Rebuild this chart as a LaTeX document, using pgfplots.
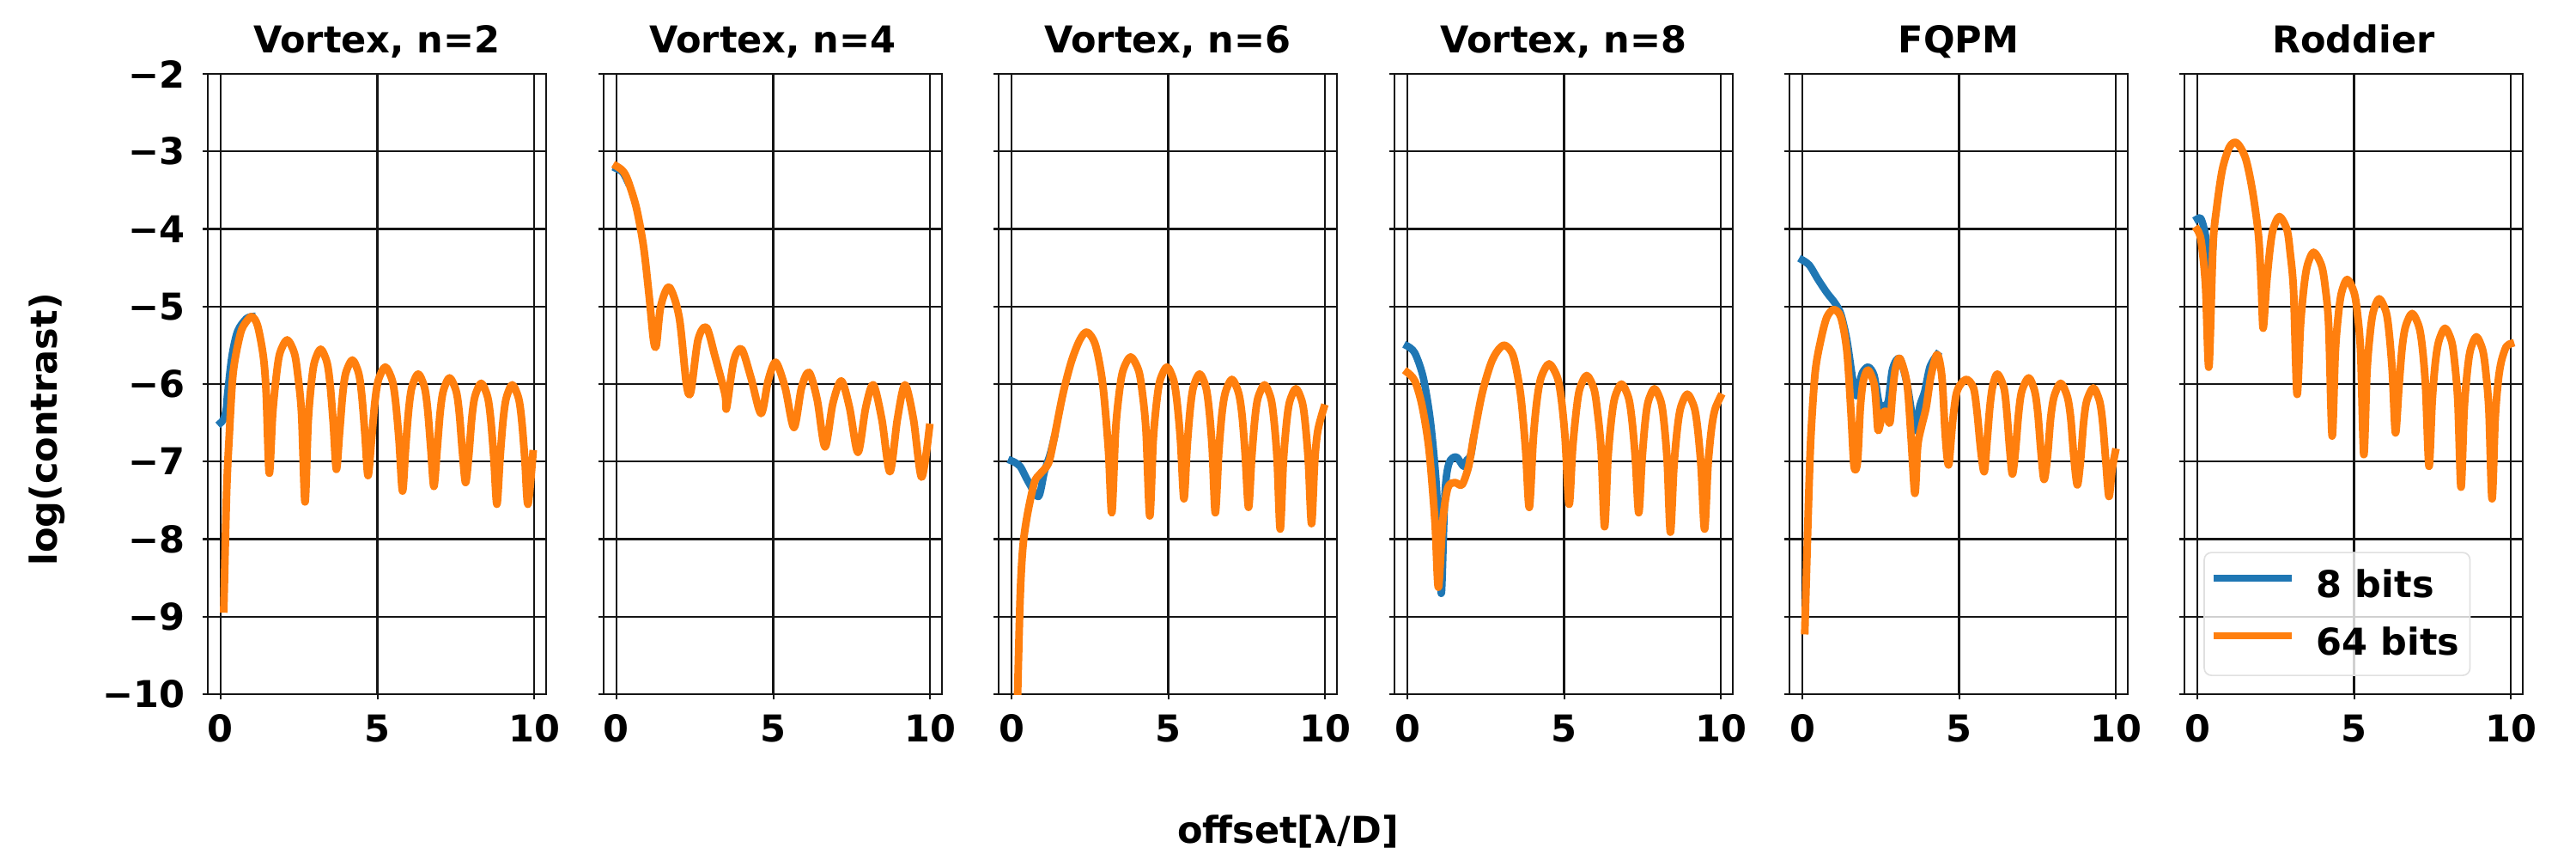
\documentclass[border=0pt]{standalone}
\usepackage{fontspec}
\setmainfont{DejaVu Sans}
\usepackage{pgfplots}
\pgfplotsset{compat=1.18}
\definecolor{c8}{HTML}{1F77B4}
\definecolor{c64}{HTML}{FF7F0E}
\definecolor{gridc}{HTML}{151515}
\newcommand\myfont{\fontsize{15.5}{18}\selectfont\bfseries}
\pgfplotsset{
  panel/.style={
    scale only axis, width=141.84pt, height=259.92pt, anchor=south west,
    xmin=-0.41, xmax=10.38, ymin=-10, ymax=-2,
    xtick={0,5,10}, xticklabels={0,5,10},
    ytick={-10,-9,-8,-7,-6,-5,-4,-3,-2},
    grid=major,
    x grid style={gridc, line width=0.8pt},
    y grid style={gridc, line width=0.75pt},
    axis line style={gridc, line width=0.75pt},
    tick style={gridc, line width=0.75pt},
    tick align=outside, major tick length=2.1pt,
    xtick pos=bottom, ytick pos=left,
    xticklabel style={font=\myfont, anchor=base, yshift=-18pt},
    yticklabel style={font=\myfont, anchor=east, inner sep=0pt, xshift=-7.2pt},
    title style={font=\myfont, anchor=base, at={(0.5,1)}, yshift=2.9pt},
    yticklabels={},
  },
  b8/.style={c8, line width=3.1pt, line join=round, line cap=rect, smooth, tension=0.5, mark=none},
  b64/.style={c64, line width=3.2pt, line join=round, line cap=rect, smooth, tension=0.5, mark=none},
}
\begin{document}
\begin{tikzpicture}
\path[use as bounding box] (0,0) rectangle (1080pt,360pt);
% ---------------- Vortex n=2
\begin{axis}[panel, at={(87.12pt,69.12pt)}, title={Vortex, n=2},
  yticklabels={−10,−9,−8,−7,−6,−5,−4,−3,−2}]
\addplot[b8] coordinates {(0,-6.50)(0.10,-6.45)(0.18,-6.32)(0.22,-6.13)(0.36,-5.64)(0.54,-5.32)(0.81,-5.16)(1.00,-5.13)};
\addplot[b64] coordinates {
(0.10,-8.90)(0.19,-7.40)(0.27,-6.70)(0.40,-5.85)(0.63,-5.35)(0.81,-5.20)(1.00,-5.13)(1.18,-5.25)(1.36,-5.64)(1.45,-6.10)(1.55,-7.15)
(1.66,-6.38)(1.78,-5.88)(1.89,-5.60)(2.12,-5.43)(2.35,-5.60)(2.46,-5.88)(2.58,-6.38)(2.69,-7.52)
(2.79,-6.50)(2.89,-6.00)(2.99,-5.72)(3.19,-5.55)(3.39,-5.72)(3.49,-6.00)(3.59,-6.50)(3.69,-7.10)
(3.79,-6.64)(3.89,-6.14)(3.99,-5.86)(4.20,-5.69)(4.40,-5.86)(4.50,-6.14)(4.60,-6.64)(4.70,-7.18)
(4.81,-6.73)(4.92,-6.23)(5.03,-5.95)(5.25,-5.78)(5.47,-5.95)(5.58,-6.23)(5.69,-6.73)(5.80,-7.38)
(5.90,-6.82)(6.00,-6.32)(6.10,-6.04)(6.30,-5.87)(6.50,-6.04)(6.60,-6.32)(6.70,-6.82)(6.80,-7.32)
(6.90,-6.87)(7.00,-6.37)(7.10,-6.09)(7.30,-5.92)(7.51,-6.09)(7.61,-6.37)(7.71,-6.87)(7.81,-7.27)
(7.91,-6.94)(8.01,-6.44)(8.11,-6.16)(8.31,-5.99)(8.51,-6.16)(8.61,-6.44)(8.71,-6.94)(8.81,-7.55)
(8.91,-6.96)(9.01,-6.46)(9.11,-6.18)(9.30,-6.01)(9.50,-6.18)(9.60,-6.46)(9.70,-6.96)(9.80,-7.55)
(9.96,-6.90)};
\end{axis}
% ---------------- Vortex n=4
\begin{axis}[panel, at={(253.08pt,69.12pt)}, title={Vortex, n=4}]
\addplot[b8] coordinates {(0,-3.22)(0.20,-3.27)(0.36,-3.39)};
\addplot[b64] coordinates {
(0.00,-3.19)(0.20,-3.25)(0.36,-3.37)(0.63,-3.72)(0.86,-4.22)(1.04,-4.86)(1.18,-5.43)(1.27,-5.50)(1.41,-5.00)
(1.68,-4.75)(2.00,-5.14)(2.23,-6.00)(2.37,-6.10)(2.60,-5.43)(2.87,-5.27)(3.14,-5.64)(3.46,-6.13)(3.51,-6.31)
(3.74,-5.70)(3.99,-5.55)(4.29,-5.92)(4.61,-6.38)(4.84,-5.95)(5.08,-5.72)(5.38,-6.05)(5.66,-6.56)
(5.90,-6.05)(6.14,-5.85)(6.40,-6.20)(6.65,-6.81)(6.90,-6.25)(7.17,-5.96)(7.43,-6.30)(7.70,-6.88)
(7.95,-6.30)(8.19,-6.01)(8.46,-6.45)(8.72,-7.13)(8.96,-6.45)(9.20,-6.01)(9.47,-6.45)(9.73,-7.20)(9.98,-6.56)};
\end{axis}
% ---------------- Vortex n=6
\begin{axis}[panel, at={(418.68pt,69.12pt)}, title={Vortex, n=6}]
\addplot[b8] coordinates {(0,-6.99)(0.27,-7.06)(0.55,-7.27)(0.86,-7.45)(1.05,-7.13)(1.23,-6.91)(1.36,-6.70)};
\addplot[b64] coordinates {
(0.16,-10.6)(0.27,-8.83)(0.36,-8.12)(0.50,-7.70)(0.73,-7.27)(0.91,-7.16)(1.18,-7.02)(1.36,-6.70)(1.64,-6.13)
(1.91,-5.71)(2.18,-5.43)(2.41,-5.33)(2.68,-5.50)(2.91,-6.00)(3.09,-6.84)(3.20,-7.66)
(3.32,-6.60)(3.44,-6.10)(3.56,-5.82)(3.80,-5.65)(4.05,-5.82)(4.17,-6.10)(4.29,-6.60)(4.41,-7.70)
(4.52,-6.73)(4.63,-6.23)(4.74,-5.95)(4.96,-5.78)(5.17,-5.95)(5.28,-6.23)(5.39,-6.73)(5.50,-7.48)
(5.60,-6.82)(5.70,-6.32)(5.80,-6.04)(6.00,-5.87)(6.20,-6.04)(6.30,-6.32)(6.40,-6.82)(6.50,-7.66)
(6.61,-6.89)(6.71,-6.39)(6.82,-6.11)(7.03,-5.94)(7.24,-6.11)(7.35,-6.39)(7.45,-6.89)(7.56,-7.59)
(7.66,-6.96)(7.76,-6.46)(7.86,-6.18)(8.07,-6.01)(8.27,-6.18)(8.37,-6.46)(8.47,-6.96)(8.57,-7.87)
(8.67,-7.01)(8.77,-6.51)(8.87,-6.23)(9.07,-6.06)(9.27,-6.23)(9.37,-6.51)(9.47,-7.01)(9.57,-7.80)
(9.67,-7.00)(9.77,-6.60)(9.96,-6.31)};
\end{axis}
% ---------------- Vortex n=8
\begin{axis}[panel, at={(584.64pt,69.12pt)}, title={Vortex, n=8}]
\addplot[b8] coordinates {(0,-5.51)(0.24,-5.60)(0.51,-5.92)(0.74,-6.49)(0.92,-7.27)(1.02,-8.10)(1.09,-8.69)(1.20,-7.41)(1.33,-7.02)(1.56,-6.94)(1.79,-7.06)(1.90,-6.98)(2.02,-6.92)(2.11,-6.70)};
\addplot[b64] coordinates {
(0.00,-5.85)(0.24,-5.96)(0.47,-6.28)(0.69,-6.84)(0.88,-7.77)(0.99,-8.62)(1.13,-7.77)(1.29,-7.34)(1.51,-7.27)(1.74,-7.30)(1.93,-7.10)(2.02,-6.92)
(2.11,-6.70)(2.38,-6.13)(2.66,-5.74)(2.88,-5.57)(3.11,-5.50)(3.38,-5.64)(3.61,-6.13)(3.77,-6.84)(3.89,-7.59)
(4.02,-6.69)(4.14,-6.19)(4.27,-5.91)(4.52,-5.74)(4.78,-5.91)(4.91,-6.19)(5.03,-6.69)(5.16,-7.55)
(5.27,-6.84)(5.39,-6.34)(5.50,-6.06)(5.72,-5.89)(5.95,-6.06)(6.06,-6.34)(6.18,-6.84)(6.29,-7.84)
(6.40,-6.95)(6.51,-6.45)(6.62,-6.17)(6.83,-6.00)(7.05,-6.17)(7.16,-6.45)(7.27,-6.95)(7.38,-7.66)
(7.48,-7.01)(7.58,-6.51)(7.68,-6.23)(7.88,-6.06)(8.09,-6.23)(8.19,-6.51)(8.29,-7.01)(8.39,-7.91)
(8.50,-7.08)(8.61,-6.58)(8.72,-6.30)(8.93,-6.13)(9.15,-6.30)(9.26,-6.58)(9.37,-7.08)(9.48,-7.87)
(9.59,-7.05)(9.70,-6.58)(9.81,-6.33)(9.98,-6.17)};
\end{axis}
% ---------------- FQPM
\begin{axis}[panel, at={(750.24pt,69.12pt)}, title={FQPM}]
\addplot[b8] coordinates {(0.00,-4.40)(0.23,-4.47)(0.50,-4.65)(0.78,-4.82)(1.05,-4.96)(1.23,-5.10)(1.42,-5.43)(1.60,-5.92)(1.72,-6.15)(1.83,-5.98)(1.92,-5.85)(2.10,-5.78)(2.29,-5.89)(2.45,-6.25)(2.60,-6.28)(2.74,-6.22)(2.88,-5.80)(3.11,-5.67)(3.34,-6.00)(3.50,-6.40)(3.61,-6.60)(3.75,-6.28)(3.90,-6.10)(4.07,-5.78)(4.30,-5.62)};
\addplot[b64] coordinates {
(0.08,-9.18)(0.18,-7.77)(0.27,-6.70)(0.41,-5.85)(0.59,-5.43)(0.78,-5.14)(1.00,-5.04)(1.23,-5.14)(1.42,-5.57)(1.55,-6.35)(1.65,-7.06)(1.76,-7.00)(1.85,-6.30)
(1.95,-5.95)(2.10,-5.82)(2.29,-6.00)(2.36,-6.30)(2.42,-6.60)(2.55,-6.40)(2.65,-6.35)(2.79,-6.50)(2.88,-6.10)(2.97,-5.80)(3.11,-5.67)
(3.34,-6.00)(3.47,-6.70)(3.59,-7.41)(3.68,-6.80)(3.80,-6.55)(3.95,-6.30)(4.10,-5.90)(4.30,-5.62)(4.45,-5.90)(4.55,-6.60)(4.62,-6.95)(4.68,-7.02)
(4.79,-6.50)(4.90,-6.15)(5.02,-6.02)(5.24,-5.94)(5.46,-6.05)(5.57,-6.35)(5.69,-6.85)(5.80,-7.13)
(5.89,-6.75)(5.98,-6.30)(6.07,-6.03)(6.22,-5.87)(6.43,-6.05)(6.52,-6.35)(6.61,-6.82)(6.70,-7.16)
(6.80,-6.85)(6.90,-6.37)(7.00,-6.09)(7.22,-5.92)(7.41,-6.09)(7.51,-6.37)(7.61,-6.87)(7.71,-7.23)
(7.82,-6.93)(7.92,-6.44)(8.03,-6.16)(8.24,-5.99)(8.45,-6.16)(8.56,-6.44)(8.66,-6.94)(8.77,-7.30)
(8.87,-7.00)(8.97,-6.50)(9.07,-6.22)(9.28,-6.05)(9.48,-6.22)(9.58,-6.50)(9.68,-7.00)(9.78,-7.45)
(9.88,-7.10)(9.98,-6.88)};
\end{axis}
% ---------------- Roddier
\begin{axis}[panel, at={(915.84pt,69.12pt)}, title={Roddier},
  legend style={at={(0.0564,0.0292)}, anchor=south west, draw=black!12, line width=0.6pt,
    rounded corners=3pt, fill=white, fill opacity=0.8, draw opacity=1, text opacity=1,
    font=\myfont, inner xsep=2.3pt, inner ysep=5pt, nodes={inner sep=2pt},
    column sep=7pt, row sep=6.9pt, cells={anchor=west}},
  legend image code/.code={\draw[#1, line width=3pt, line cap=butt] (0pt,0.3em) -- (32.8pt,0.3em);}]
\addplot[b8] coordinates {(0,-3.87)(0.12,-3.87)(0.26,-4.08)(0.39,-4.50)(0.50,-4.22)};
\addlegendentry{8 bits}
\addplot[b64] coordinates {
(0.00,-4.01)(0.12,-4.15)(0.26,-4.72)(0.37,-5.78)(0.50,-4.22)(0.62,-3.72)(0.80,-3.23)(1.03,-2.94)(1.26,-2.89)(1.54,-3.09)(1.76,-3.51)(1.95,-4.08)(2.04,-4.72)(2.10,-5.28)
(2.21,-4.70)(2.32,-4.25)(2.42,-4.00)(2.62,-3.84)(2.86,-4.01)(2.96,-4.30)(3.07,-4.80)(3.18,-6.13)
(3.29,-5.25)(3.40,-4.75)(3.51,-4.47)(3.71,-4.30)(3.96,-4.47)(4.08,-4.75)(4.19,-5.25)(4.30,-6.67)
(4.40,-5.60)(4.50,-5.10)(4.60,-4.82)(4.78,-4.65)(5.00,-4.82)(5.11,-5.10)(5.21,-5.60)(5.31,-6.91)
(5.41,-5.85)(5.51,-5.35)(5.61,-5.07)(5.80,-4.90)(6.02,-5.07)(6.12,-5.35)(6.22,-5.85)(6.32,-6.63)
(6.43,-6.04)(6.53,-5.54)(6.64,-5.26)(6.85,-5.09)(7.07,-5.26)(7.18,-5.54)(7.28,-6.04)(7.39,-7.06)
(7.49,-6.23)(7.59,-5.73)(7.70,-5.45)(7.90,-5.28)(8.11,-5.45)(8.21,-5.73)(8.31,-6.23)(8.41,-7.33)
(8.51,-6.34)(8.61,-5.84)(8.71,-5.56)(8.90,-5.39)(9.10,-5.56)(9.20,-5.84)(9.30,-6.34)(9.40,-7.48)
(9.50,-6.45)(9.60,-5.95)(9.70,-5.70)(9.85,-5.52)(9.99,-5.48)};
\addlegendentry{64 bits}
\end{axis}
\node[font=\myfont, anchor=base] at (540pt,6.5pt) {offset[λ/D]};
\node[font=\myfont, rotate=90, anchor=base] at (23.8pt,180pt) {log(contrast)};
\end{tikzpicture}
\end{document}
